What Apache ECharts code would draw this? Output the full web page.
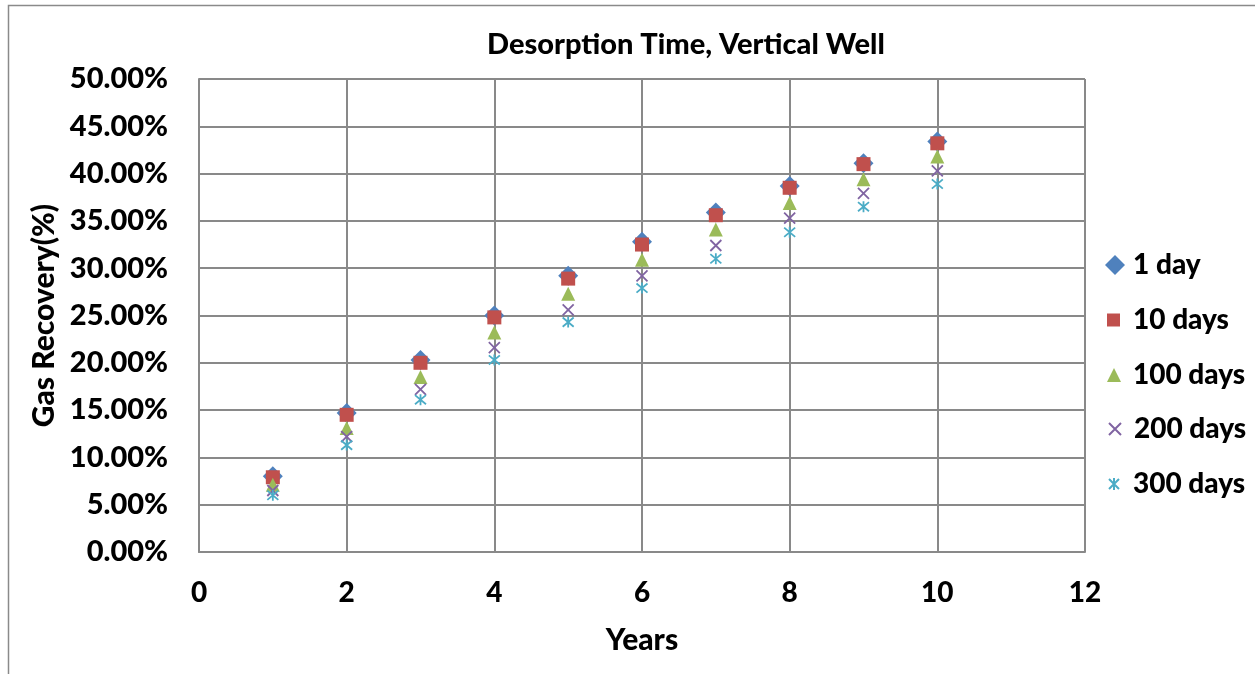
<!DOCTYPE html>
<html>
<head>
<meta charset="utf-8">
<script src="https://cdn.jsdelivr.net/npm/echarts@6/dist/echarts.min.js"></script>
<style>
  html, body { margin: 0; padding: 0; background: #ffffff; }
  #chart { width: 1255px; height: 674px; }
</style>
</head>
<body>
<div id="chart"></div>
<script>
// Gas recovery (%) by production year for several desorption times
const years = [1, 2, 3, 4, 5, 6, 7, 8, 9, 10];
const day1    = [8.0, 14.7, 20.3, 25.0, 29.2, 32.8, 35.9, 38.7, 41.1, 43.4];
const days10  = [7.9, 14.5, 20.0, 24.8, 28.9, 32.5, 35.6, 38.5, 41.0, 43.2];
const days100 = [7.1, 13.1, 18.5, 23.2, 27.3, 30.9, 34.1, 36.9, 39.4, 41.8];
const days200 = [6.5, 12.2, 17.2, 21.6, 25.6, 29.2, 32.4, 35.3, 37.9, 40.3];
const days300 = [6.0, 11.3, 16.1, 20.3, 24.3, 27.9, 31.0, 33.8, 36.5, 38.9];
const seriesNames = ['1 day', '10 days', '100 days', '200 days', '300 days'];

const FONT = 'Lato';
const WEIGHT = 900;
const GRID_COLOR = '#898989';

const crossPath = 'path://M0,0L10,10M10,0L0,10';
const starPath = 'path://M0,0L10,10M10,0L0,10M5,-1L5,11';

function pairs(vals) {
  return years.map((y, i) => [y, vals[i]]);
}

// one legend block per series so each key icon keeps its own size
const legendSpecs = [
  { name: '1 day',    left: 1105, size: 20, center: 265 },
  { name: '10 days',  left: 1107, size: 13, center: 320 },
  { name: '100 days', left: 1107, size: 14, center: 375 },
  { name: '200 days', left: 1108, size: 12, center: 429 },
  { name: '300 days', left: 1108, size: 12, center: 484 }
];
const TEXT_START = 1133;
const legends = legendSpecs.map(s => ({
  orient: 'vertical',
  left: s.left,
  top: s.center - 15,
  padding: 0,
  itemWidth: s.size,
  itemHeight: s.size,
  textStyle: {
    fontFamily: FONT, fontWeight: WEIGHT, fontSize: 28, color: '#000',
    lineHeight: 30,
    padding: [0, 0, 0, TEXT_START - (s.left + s.size + 5)]
  },
  data: [s.name]
}));

const chart = echarts.init(document.getElementById('chart'), null, { renderer: 'canvas' });

const axisText = { fontFamily: FONT, fontWeight: WEIGHT, color: '#000' };

const option = {
  backgroundColor: '#ffffff',
  animation: false,
  title: {
    text: 'Desorption Time, Vertical Well',
    left: 482,
    top: 25,
    textStyle: Object.assign({ fontSize: 29 }, axisText)
  },
  graphic: [{
    type: 'rect',
    shape: { x: 8.5, y: 5.5, width: 1260, height: 690 },
    style: { fill: 'none', stroke: '#8a8a8a', lineWidth: 1.5 },
    silent: true
  }],
  grid: { left: 199, right: 170, top: 79, bottom: 122 },
  legend: legends,
  xAxis: {
    type: 'value',
    min: 0, max: 12, interval: 2,
    name: 'Years',
    nameLocation: 'middle',
    nameGap: 73,
    nameTextStyle: Object.assign({ fontSize: 30 }, axisText),
    axisLine: { show: true, lineStyle: { color: GRID_COLOR, width: 2 } },
    axisTick: { show: false },
    axisLabel: Object.assign({ margin: 27, fontSize: 28 }, axisText),
    splitLine: { show: true, lineStyle: { color: GRID_COLOR, width: 2 } }
  },
  yAxis: {
    type: 'value',
    min: 0, max: 50, interval: 5,
    name: 'Gas Recovery(%)',
    nameLocation: 'middle',
    nameGap: 139,
    nameTextStyle: Object.assign({ fontSize: 30 }, axisText),
    axisLine: { show: true, lineStyle: { color: GRID_COLOR, width: 2 } },
    axisTick: { show: false },
    axisLabel: Object.assign({
      margin: 31, fontSize: 29,
      formatter: v => v.toFixed(2) + '%'
    }, axisText),
    splitLine: { show: true, lineStyle: { color: GRID_COLOR, width: 2 } }
  },
  series: [
    {
      name: '1 day', type: 'scatter', data: pairs(day1),
      symbol: 'diamond', symbolSize: [20, 20],
      itemStyle: { color: '#4F81BD', opacity: 1 }, z: 2
    },
    {
      name: '10 days', type: 'scatter', data: pairs(days10),
      symbol: 'rect', symbolSize: 14,
      itemStyle: { color: '#C0504D', opacity: 1 }, z: 3
    },
    {
      name: '100 days', type: 'scatter', data: pairs(days100),
      symbol: 'triangle', symbolSize: 14,
      itemStyle: { color: '#9BBB59', opacity: 1 }, z: 4
    },
    {
      name: '200 days', type: 'scatter', data: pairs(days200),
      symbol: crossPath, symbolSize: 11,
      itemStyle: { color: 'rgba(0,0,0,0)', borderColor: '#8064A2', borderWidth: 1.8, opacity: 1 }, z: 5
    },
    {
      name: '300 days', type: 'scatter', data: pairs(days300),
      symbol: starPath, symbolSize: 11,
      itemStyle: { color: 'rgba(0,0,0,0)', borderColor: '#4BACC6', borderWidth: 1.8, opacity: 1 }, z: 6
    }
  ]
};

chart.setOption(option);
</script>
</body>
</html>
